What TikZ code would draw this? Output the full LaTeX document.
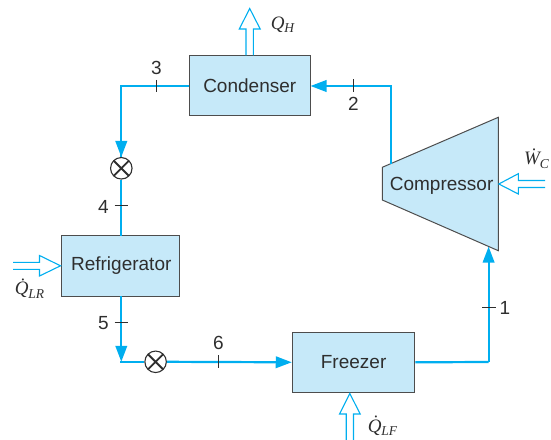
\documentclass[tikz,border=0pt]{standalone}
\usepackage{fontspec}
\setmainfont{Liberation Sans}
\newfontfamily\qfont{Liberation Serif}
\usetikzlibrary{arrows.meta}
\definecolor{pipe}{HTML}{00AEEF}
\definecolor{boxfill}{HTML}{C6E9F9}
\definecolor{ink}{HTML}{2E2E2E}
\newcommand{\qlabel}[2]{{\qfont\itshape\fontsize{19bp}{19bp}\selectfont #1\raisebox{-3.5bp}{\fontsize{13.5bp}{13.5bp}\selectfont #2}}}
\newcommand{\qdot}[2]{{\qfont\itshape\fontsize{19bp}{19bp}\selectfont \.{#1}\raisebox{-3.5bp}{\fontsize{13.5bp}{13.5bp}\selectfont #2}}}
\tikzset{
  unit/.style={draw=ink!85,line width=1bp,fill=boxfill,inner sep=0pt,text=ink,font=\fontsize{19bp}{20bp}\selectfont},
  pipeline/.style={draw=pipe,line width=2.2bp},
  flow/.style={pipeline,-{Triangle[length=16bp,width=11.5bp]}},
  tickmark/.style={draw=ink,line width=0.8bp},
  num/.style={text=ink,inner sep=0pt,font=\fontsize{19bp}{20bp}\selectfont},
  qtext/.style={text=ink,inner sep=0pt},
  hollow/.style={draw=pipe,line width=1.1bp,line join=miter},
  valve/.style={circle,draw=ink,line width=1.1bp,fill=white,minimum size=21.5bp,inner sep=0pt,
    path picture={\draw[ink,line width=1.9bp]
      (path picture bounding box.north west)--(path picture bounding box.south east)
      (path picture bounding box.north east)--(path picture bounding box.south west);}}
}
\begin{document}
\begin{tikzpicture}[x=1bp,y=-1bp]
\useasboundingbox (0,0) rectangle (551,440);
% units
\node[unit,minimum width=120.5bp,minimum height=60bp] (cond) at (249.75,86) {Condenser};
\node[unit,minimum width=118bp,minimum height=60bp] (refr) at (120,266) {\hspace{2.5bp}Refrigerator};
\node[unit,minimum width=122.7bp,minimum height=60bp] (frez) at (353.6,362.3) {Freezer};
% compressor
\coordinate (c1) at (382.3,167.3);
\coordinate (c2) at (498.3,117.3);
\coordinate (c3) at (498.3,250.7);
\coordinate (c4) at (382.3,200);
\fill[boxfill] (c1)--(c2)--(c3)--(c4)--cycle;
\draw[ink!85,line width=1bp] (c1)--(c2)--(c3)--(c4)--cycle;
\node[text=ink,inner sep=0pt,font=\fontsize{19bp}{20bp}\selectfont] (comp) at (441.6,185.5) {Compressor};
% valves
\node[valve] (v1) at (121.3,168.3) {};
\node[valve] (v2) at (155.6,361.8) {};
% corners and ports
\coordinate (a1) at (121.3,86);
\coordinate (a2) at (121.3,361.8);
\coordinate (a3) at (488.6,362);
\coordinate (a4) at (488.6,246.6);
\coordinate (a5) at (390.6,86);
\coordinate (a6) at (390.6,164);
\coordinate (rt) at (121.3,236);
\coordinate (rb) at (121.3,296);
% connectors
\draw[pipeline] (cond.west) -- (a1) -- (v1.north);
\draw[flow] (a1) -- (v1.north);
\draw[pipeline] (v1.south) -- (rt);
\draw[flow] (rb) -- (a2);
\draw[pipeline] (120.2,361.8) -- (v2.west);
\draw[flow] (v2.east) -- (frez.west);
\draw[pipeline] (frez.east) -- (a3);
\draw[flow] (a3) -- (a4);
\draw[pipeline] (a6) -- (a5);
\draw[flow] (391.7,86) -- (cond.east);
% ticks and numbers
\draw[tickmark] (156.5,80) -- (156.5,92);
\node[num] (n3) at (156.5,68) {3};
\draw[tickmark] (353.5,79.5) -- (353.5,92.5);
\node[num] (n2) at (353.5,104) {2};
\draw[tickmark] (114.5,205.5) -- (128,205.5);
\node[num] (n4) at (103.5,206.5) {4};
\draw[tickmark] (114.5,322.5) -- (128,322.5);
\node[num] (n5) at (103.5,323.5) {5};
\draw[tickmark] (218.3,355) -- (218.3,368);
\node[num] (n6) at (218.3,342.5) {6};
\draw[tickmark] (482,307.7) -- (495.5,307.7);
\node[num] (n1) at (505,308) {1};
% hollow arrows
\draw[hollow] (246,55.5) -- (246,29) -- (239.3,29) -- (249.7,8.5) -- (260.2,29) -- (253.4,29) -- (253.4,55.5);
\node[qtext] (qh) at (282.5,24.5) {\qlabel{Q}{H}};
\draw[hollow] (13,262.3) -- (39.5,262.3) -- (39.5,255.5) -- (60.5,265.8) -- (39.5,276) -- (39.5,269.3) -- (13,269.3);
\node[qtext] (qlr) at (29.5,288.5) {\qdot{Q}{LR}};
\draw[hollow] (346.2,440) -- (346.2,414) -- (339.5,414) -- (349.8,393.5) -- (360.2,414) -- (353.5,414) -- (353.5,440);
\node[qtext] (qlf) at (382.5,426) {\qdot{Q}{LF}};
\draw[hollow] (545,180.5) -- (518.3,180.5) -- (518.3,173.7) -- (498.8,184) -- (518.3,194) -- (518.3,187.5) -- (545,187.5);
\node[qtext] (wc) at (536.5,158.5) {\qdot{W}{C}};
\end{tikzpicture}
\end{document}
